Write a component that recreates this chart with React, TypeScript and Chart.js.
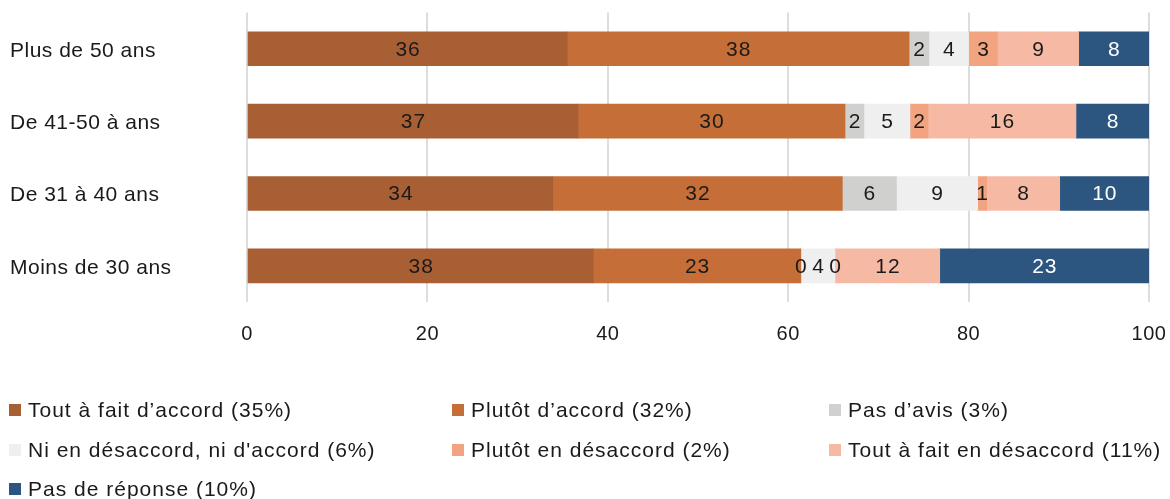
import React, { useEffect, useRef } from "react";
import { Chart, registerables } from "chart.js";

Chart.register(...registerables);

const categories = ["Plus de 50 ans", "De 41-50 à ans", "De 31 à 40 ans", "Moins de 30 ans"];

const seriesLabels = [
  "Tout à fait d’accord (35%)",
  "Plutôt d’accord (32%)",
  "Pas d’avis (3%)",
  "Ni en désaccord, ni d'accord (6%)",
  "Plutôt en désaccord (2%)",
  "Tout à fait en désaccord (11%)",
  "Pas de réponse (10%)",
];

const seriesColors = ["#A95F34", "#C56E37", "#D0D0CE", "#EFEFEF", "#F2A37F", "#F6BAA4", "#2C5680"];

const toutAFaitDAccord = [35.5, 36.7, 33.9, 38.4];
const plutotDAccord = [37.9, 29.6, 32.1, 23.0];
const pasDAvis = [2.2, 2.1, 6.0, 0];
const niEnDesaccord = [4.4, 5.1, 9.0, 3.8];
const plutotEnDesaccord = [3.2, 2.0, 1.0, 0];
const toutAFaitEnDesaccord = [9.0, 16.4, 8.1, 11.6];
const pasDeReponse = [7.8, 8.1, 9.9, 23.2];

const seriesValues = [
  toutAFaitDAccord,
  plutotDAccord,
  pasDAvis,
  niEnDesaccord,
  plutotEnDesaccord,
  toutAFaitEnDesaccord,
  pasDeReponse,
];

const xTickValues = [0, 20, 40, 60, 80, 100];

const FONT_FAMILY = '"Liberation Sans", Arial, Helvetica, sans-serif';
const TEXT_COLOR = "#1a1a1a";
const AXIS_SPACING = "0.5px";

const letterSpacingPlugin = {
  id: "letterSpacing",
  beforeLayout(chart: any) {
    chart.ctx.letterSpacing = AXIS_SPACING;
  },
  beforeDraw(chart: any) {
    chart.ctx.letterSpacing = AXIS_SPACING;
  },
};

const valueLabelsPlugin = {
  id: "valueLabels",
  afterDatasetsDraw(chart: any) {
    const ctx = chart.ctx;
    ctx.save();
    ctx.letterSpacing = "1px";
    ctx.font = `21px ${FONT_FAMILY}`;
    ctx.textAlign = "center";
    ctx.textBaseline = "middle";
    chart.data.datasets.forEach((ds: any, di: number) => {
      const meta = chart.getDatasetMeta(di);
      meta.data.forEach((el: any, i: number) => {
        const v = ds.data[i];
        const p = el.getCenterPoint();
        ctx.fillStyle = di === chart.data.datasets.length - 1 ? "#ffffff" : TEXT_COLOR;
        ctx.fillText(String(Math.round(v)), p.x + 0.5, p.y + 1);
      });
    });
    ctx.restore();
  },
};

const gridLegendPlugin = {
  id: "gridLegend",
  afterDraw(chart: any) {
    const ctx = chart.ctx;
    const colX = [9, 452, 829];
    const rowY = [410, 450, 489];
    ctx.save();
    ctx.letterSpacing = "1px";
    ctx.font = `21px ${FONT_FAMILY}`;
    ctx.textAlign = "left";
    ctx.textBaseline = "middle";
    chart.data.datasets.forEach((ds: any, i: number) => {
      const x = colX[i % 3];
      const y = rowY[Math.floor(i / 3)];
      ctx.fillStyle = ds.backgroundColor;
      ctx.fillRect(x, y - 6, 12, 12);
      ctx.fillStyle = TEXT_COLOR;
      ctx.fillText(ds.label, x + 19, y + 1);
    });
    ctx.restore();
  },
};

export default function App() {
  const canvasRef = useRef<HTMLCanvasElement | null>(null);

  useEffect(() => {
    const canvas = canvasRef.current;
    if (!canvas) return;
    const chart = new Chart(canvas, {
      type: "bar",
      data: {
        labels: categories,
        datasets: seriesLabels.map((label, i) => ({
          label,
          data: seriesValues[i],
          backgroundColor: seriesColors[i],
          borderWidth: 0,
          barThickness: 34,
        })),
      },
      options: {
        indexAxis: "y",
        responsive: false,
        animation: false,
        devicePixelRatio: 1,
        layout: { padding: { left: 10, right: 21, top: 12, bottom: 133 } },
        plugins: {
          legend: { display: false },
          tooltip: { enabled: false },
        },
        scales: {
          x: {
            stacked: true,
            min: 0,
            max: 100,
            afterBuildTicks: (scale: any) => {
              scale.ticks = xTickValues.map((v) => ({ value: v }));
            },
            afterFit: (scale: any) => {
              scale.paddingLeft = 0;
              scale.paddingRight = 0;
            },
            grid: { color: "#DDDDDD", lineWidth: 2, drawTicks: false },
            border: { display: false },
            ticks: {
              padding: 20,
              color: TEXT_COLOR,
              font: { family: FONT_FAMILY, size: 20 },
            },
          },
          y: {
            stacked: true,
            afterFit: (scale: any) => {
              scale.width = 237;
            },
            grid: { display: false, drawTicks: false },
            border: { display: false },
            ticks: {
              crossAlign: "far",
              padding: 0,
              labelOffset: 2,
              color: TEXT_COLOR,
              font: { family: FONT_FAMILY, size: 21 },
            },
          },
        },
      },
      plugins: [letterSpacingPlugin, valueLabelsPlugin, gridLegendPlugin],
    });
    return () => chart.destroy();
  }, []);

  return (
    <div style={{ position: "absolute", left: 0, top: 0, width: 1170, height: 499, background: "#ffffff" }}>
      <canvas ref={canvasRef} width={1170} height={499} style={{ display: "block" }} />
    </div>
  );
}
